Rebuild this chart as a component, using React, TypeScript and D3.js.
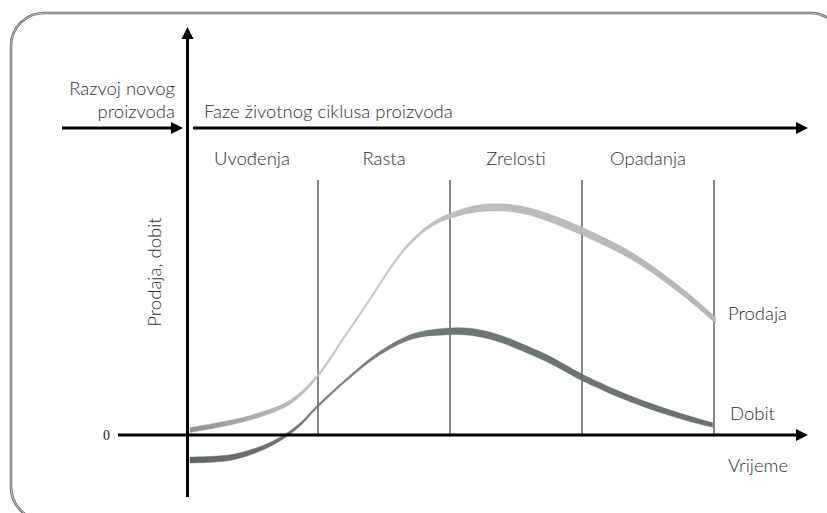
import * as d3 from 'd3';

// phase boundaries (time units) and labels
const phases = ['Uvođenja', 'Rasta', 'Zrelosti', 'Opadanja'];
const boundaries = [1, 2, 3, 4];

// sales curve (Prodaja)
const salesT = [0.03, 0.48, 0.79, 0.99, 1.2, 1.39, 1.58, 1.72, 1.87, 2.02, 2.2, 2.38, 2.56, 2.76, 3.01, 3.39, 3.77, 4.01];
const salesV = [0.22, 0.75, 1.45, 2.55, 4.32, 5.95, 7.62, 8.59, 9.3, 9.69, 9.97, 10.03, 9.9, 9.55, 8.95, 7.84, 6.26, 5.07];
const salesW = [5, 4.5, 4, 3, 2.5, 2.5, 2.5, 3, 3.5, 5, 6.5, 7, 7, 7.5, 7.5, 7, 6.5, 6];

// profit curve (Dobit)
const profitT = [0.03, 0.36, 0.66, 0.86, 0.99, 1.24, 1.47, 1.72, 1.95, 2.15, 2.35, 2.55, 2.76, 3.01, 3.39, 3.77, 3.99];
const profitV = [-1.1, -0.97, -0.35, 0.44, 1.23, 2.56, 3.61, 4.35, 4.55, 4.55, 4.3, 3.85, 3.3, 2.51, 1.54, 0.79, 0.44];
const profitW = [6, 5.5, 4, 3, 2.5, 2.5, 3.5, 5, 6.5, 7, 7, 7, 7, 6.5, 6, 5.5, 4.5];

const W = 827, H = 513;
const font = "Lato, 'Open Sans', sans-serif";
const ink = '#2e2e2e';

const x = d3.scaleLinear().domain([0, 4]).range([186, 714]);
const y = d3.scaleLinear().domain([0, 10]).range([435, 208]);

type P = { t: number; v: number; w: number };
const ribbon = d3.area<P>()
	.x(d => x(d.t))
	.y0(d => y(d.v) + d.w / 2)
	.y1(d => y(d.v) - d.w / 2)
	.curve(d3.curveCatmullRom.alpha(0.5));

const sales: P[] = salesT.map((t, i) => ({ t, v: salesV[i], w: salesW[i] }));
const profit: P[] = profitT.map((t, i) => ({ t, v: profitV[i], w: profitW[i] }));

export default function App() {
	const yAxisX = x(0);
	const zeroY = y(0);
	const topArrowY = 128;

	return (
		<svg width={W} height={H} style={{ display: 'block', position: 'absolute', left: 0, top: 0 }}>
			<defs>
				<linearGradient id="gSales" gradientUnits="userSpaceOnUse" x1={x(0)} x2={x(4)} y1={0} y2={0}>
					<stop offset="0" stopColor="#8c9092" />
					<stop offset="0.12" stopColor="#a9acae" />
					<stop offset="0.25" stopColor="#c4c6c7" />
					<stop offset="0.35" stopColor="#d2d3d4" />
					<stop offset="0.5" stopColor="#bcbfc0" />
					<stop offset="1" stopColor="#b5b8ba" />
				</linearGradient>
				<linearGradient id="gProfit" gradientUnits="userSpaceOnUse" x1={x(0)} x2={x(4)} y1={0} y2={0}>
					<stop offset="0" stopColor="#5e6467" />
					<stop offset="0.2" stopColor="#72787a" />
					<stop offset="0.3" stopColor="#7f8587" />
					<stop offset="0.5" stopColor="#6f7678" />
					<stop offset="1" stopColor="#6a7173" />
				</linearGradient>
			</defs>

			{/* frame */}
			<rect x={11} y={13} width={832} height={507} rx={33} fill="none" stroke="#666" strokeWidth={2.6} />
			<rect x={11} y={13} width={832} height={507} rx={33} fill="none" stroke="#dcdcdc" strokeWidth={0.8} />

			{/* phase dividers */}
			{boundaries.map(b => (
				<line key={b} x1={x(b)} x2={x(b)} y1={180} y2={zeroY} stroke="#111" strokeWidth={1} />
			))}

			{/* curves */}
			<path d={ribbon(sales) ?? ''} fill="url(#gSales)" stroke="#9a9da0" strokeWidth={0.4} />
			<path d={ribbon(profit) ?? ''} fill="url(#gProfit)" stroke="#5a6063" strokeWidth={0.4} />

			{/* zero axis */}
			<line x1={118} x2={798} y1={zeroY} y2={zeroY} stroke="#000" strokeWidth={3} />
			<path d={`M808,${zeroY} L796,${zeroY - 6} L796,${zeroY + 6} Z`} fill="#000" />
			<text x={110} y={zeroY + 5} textAnchor="end" fontFamily="'Liberation Serif', serif" fontSize={14} fill="#222">0</text>

			{/* y axis */}
			<line x1={yAxisX + 1.5} x2={yAxisX + 1.5} y1={37} y2={497} stroke="#000" strokeWidth={3} />
			<path d={`M${yAxisX + 1.5},27 L${yAxisX - 4.5},39 L${yAxisX + 7.5},39 Z`} fill="#000" />

			{/* top arrows */}
			<line x1={62} x2={173} y1={topArrowY} y2={topArrowY} stroke="#000" strokeWidth={3} />
			<path d={`M183,${topArrowY} L171,${topArrowY - 6} L171,${topArrowY + 6} Z`} fill="#000" />
			<line x1={193} x2={798} y1={topArrowY} y2={topArrowY} stroke="#000" strokeWidth={3} />
			<path d={`M808,${topArrowY} L796,${topArrowY - 6} L796,${topArrowY + 6} Z`} fill="#000" />

			<g fontFamily={font} fontWeight={300} fontSize={18.5} fill={ink}>
				<text x={175} y={95} textAnchor="end">Razvoj novog</text>
				<text x={175} y={118} textAnchor="end">proizvoda</text>
				<text x={204} y={118}>Faze životnog ciklusa proizvoda</text>

				{phases.map((p, i) => (
					<text key={p} x={x(i + 0.5)} y={165} textAnchor="middle">{p}</text>
				))}

				<text transform={`translate(161,272) rotate(-90)`} textAnchor="middle">Prodaja, dobit</text>

				<text x={728} y={320}>Prodaja</text>
				<text x={730} y={420}>Dobit</text>
				<text x={728} y={472}>Vrijeme</text>
			</g>
		</svg>
	);
}
